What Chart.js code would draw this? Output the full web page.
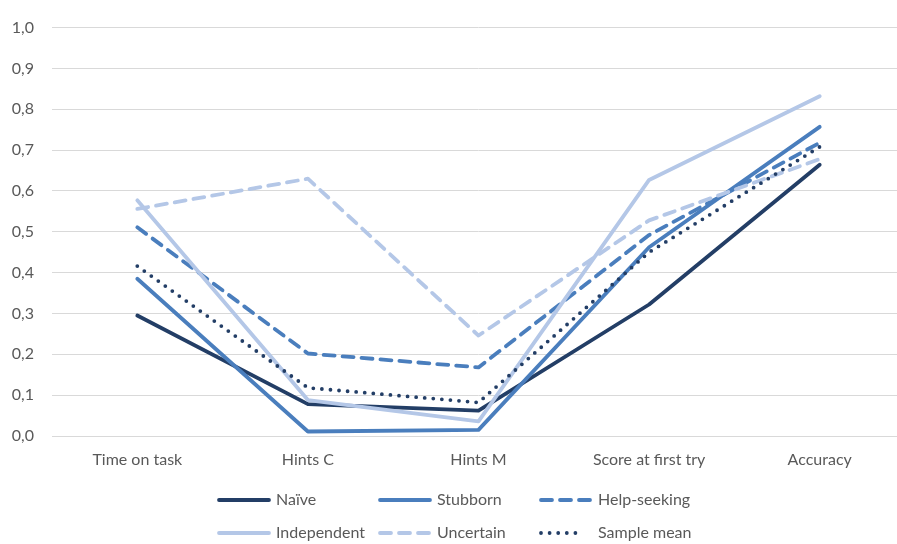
<!DOCTYPE html>
<html>
<head>
<meta charset="utf-8">
<script src="https://cdn.jsdelivr.net/npm/chart.js@4"></script>
<style>
  html, body { margin: 0; padding: 0; background: #ffffff; }
  #wrap { width: 897px; height: 544px; overflow: hidden; position: relative; }
  #box { width: 910px; height: 544px; position: absolute; left: 0; top: 0; }
</style>
</head>
<body>
<div id="wrap"><div id="box"><canvas id="c"></canvas></div></div>
<script>
// Profile means per indicator
const categories = ['Time on task', 'Hints C', 'Hints M', 'Score at first try', 'Accuracy'];
const naive       = [0.295, 0.078, 0.062, 0.322, 0.664];
const stubborn    = [0.385, 0.011, 0.015, 0.462, 0.757];
const helpSeeking = [0.511, 0.202, 0.168, 0.492, 0.718];
const independent = [0.577, 0.088, 0.036, 0.627, 0.832];
const uncertain   = [0.556, 0.630, 0.246, 0.528, 0.678];
const sampleMean  = [0.416, 0.118, 0.082, 0.450, 0.708];
const seriesNames = ['Naïve', 'Stubborn', 'Help-seeking', 'Independent', 'Uncertain', 'Sample mean'];
const yTickLabels = ['0,0', '0,1', '0,2', '0,3', '0,4', '0,5', '0,6', '0,7', '0,8', '0,9', '1,0'];

const DARK = '#233E66';
const MID = '#4A7EBD';
const LIGHT = '#B4C7E7';
const DASH = [11, 8];
const DOT = [0, 8.6];
const FONT = 'Lato, "Open Sans", sans-serif';
const TEXT = '#595959';

const styles = [
  { color: DARK,  dash: [] },
  { color: MID,   dash: [] },
  { color: MID,   dash: DASH },
  { color: LIGHT, dash: [] },
  { color: LIGHT, dash: DASH },
  { color: DARK,  dash: DOT }
];
const values = [naive, stubborn, helpSeeking, independent, uncertain, sampleMean];

const datasets = values.map((v, i) => ({
  label: seriesNames[i],
  data: v,
  borderColor: styles[i].color,
  backgroundColor: styles[i].color,
  borderDash: styles[i].dash,
  borderWidth: 3.8,
  borderCapStyle: 'round',
  borderJoinStyle: 'round',
  pointRadius: 0,
  pointHoverRadius: 0,
  tension: 0,
  fill: false,
  order: values.length - i
}));

// Two-row legend with aligned columns below the plot
const gridLegend = {
  id: 'gridLegend',
  afterDraw(chart) {
    const ctx = chart.ctx;
    const cols = [218, 379, 540];
    const rows = [500, 533];
    ctx.save();
    ctx.font = '16px ' + FONT;
    ctx.textBaseline = 'middle';
    ctx.textAlign = 'left';
    chart.data.datasets.forEach((ds, i) => {
      const x = cols[i % 3];
      const y = rows[Math.floor(i / 3)];
      ctx.beginPath();
      ctx.strokeStyle = ds.borderColor;
      ctx.lineWidth = ds.borderWidth;
      ctx.lineCap = 'round';
      ctx.setLineDash(ds.borderDash);
      const len = ds.borderDash.length && ds.borderDash[0] === 0 ? 44 : 51;
      ctx.moveTo(x + 1, y);
      ctx.lineTo(x + len, y);
      ctx.stroke();
      ctx.setLineDash([]);
      ctx.fillStyle = TEXT;
      ctx.fillText(ds.label, x + 58, y);
    });
    ctx.restore();
  }
};

new Chart(document.getElementById('c'), {
  type: 'line',
  data: { labels: categories, datasets },
  options: {
    responsive: true,
    maintainAspectRatio: false,
    animation: false,
    layout: { padding: { top: 22, right: 5, bottom: 72, left: 0 } },
    plugins: {
      legend: { display: false },
      tooltip: { enabled: false }
    },
    scales: {
      x: {
        offset: true,
        grid: { display: false, drawTicks: false },
        border: { display: false },
        ticks: { color: TEXT, font: { family: FONT, size: 16 }, padding: 14, maxRotation: 0 },
        afterFit(scale) { scale.height = 36; }
      },
      y: {
        min: 0,
        max: 1,
        grid: { color: '#D9D9D9', lineWidth: 1, drawTicks: false },
        border: { display: false },
        ticks: {
          stepSize: 0.1,
          color: TEXT,
          font: { family: FONT, size: 16 },
          padding: 18,
          callback: (v, i) => yTickLabels[i]
        },
        afterFit(scale) { scale.width = 52; }
      }
    }
  },
  plugins: [gridLegend]
});
</script>
</body>
</html>
